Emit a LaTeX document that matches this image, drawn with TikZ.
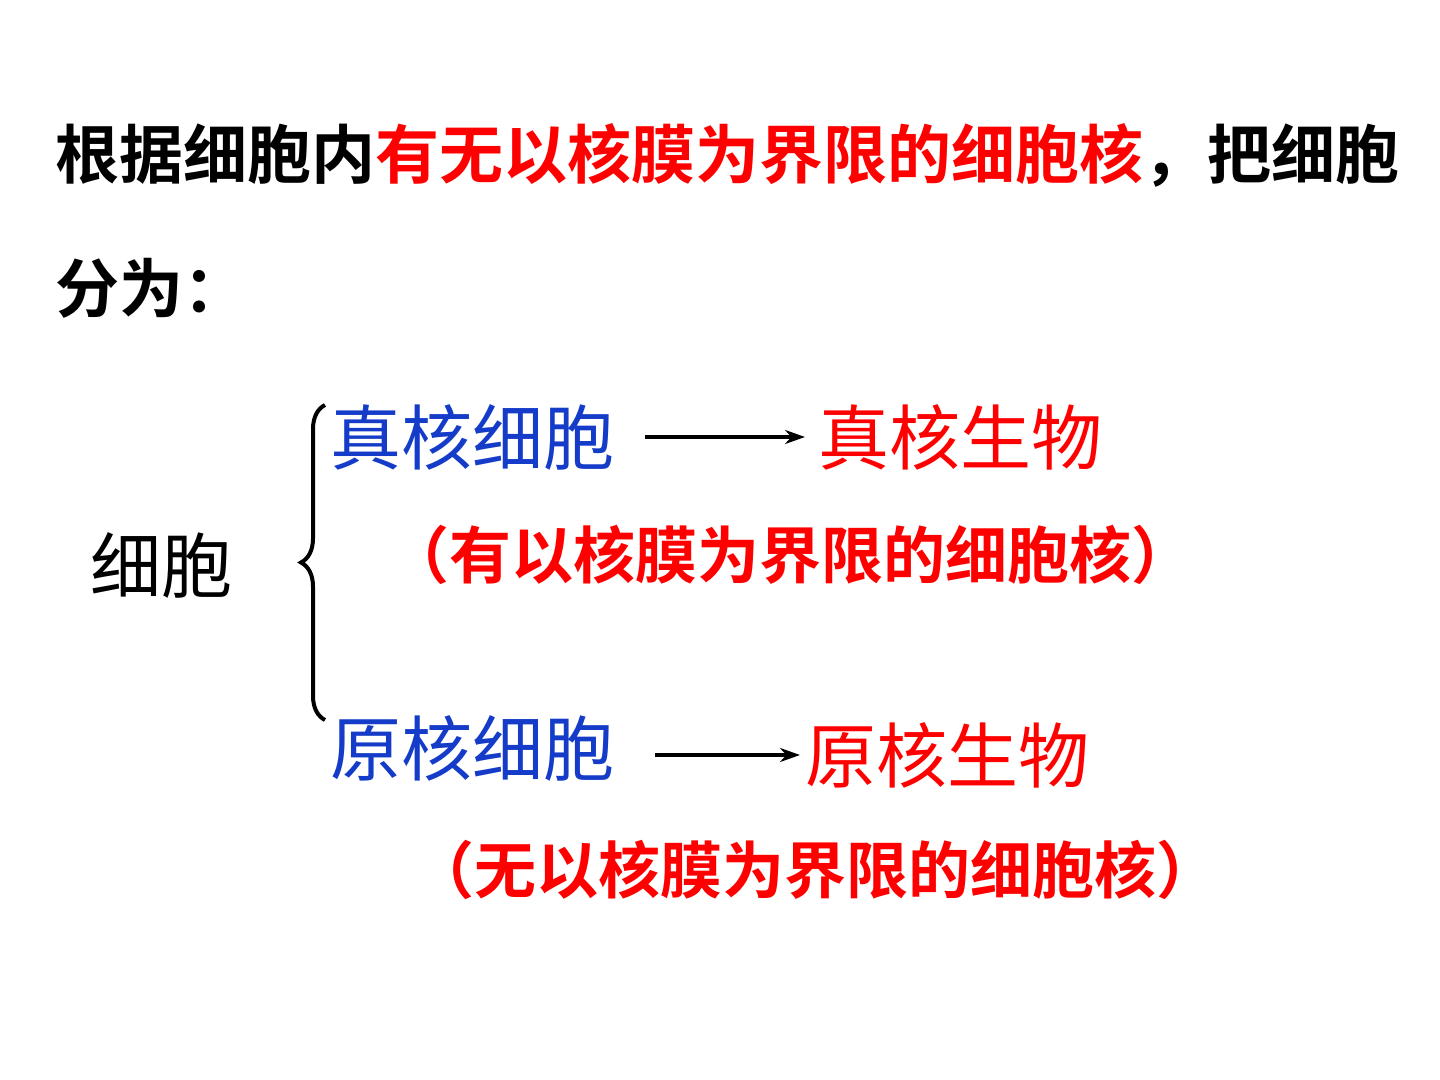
\documentclass[tikz,border=0pt]{standalone}
\usepackage{fontspec}
\setmainfont{Noto Sans CJK SC}
\newfontfamily\cjkbold{Noto Sans CJK SC Bold}
\usetikzlibrary{arrows.meta,decorations.pathreplacing}
\definecolor{cellred}{RGB}{255,0,0}
\definecolor{cellblue}{RGB}{20,60,200}
\tikzset{every picture/.style={line width=0.75pt}}

\begin{document}
\begin{tikzpicture}[x=0.5pt,y=0.5pt,yscale=-1,xscale=1]
\useasboundingbox (0,0) rectangle (1440,1080);
\tikzset{
  title/.style={anchor=west,inner sep=0pt,font=\cjkbold\fontsize{32}{36}\selectfont},
  kind/.style={anchor=west,inner sep=0pt,font=\fontsize{35.5}{40}\selectfont},
  note/.style={inner sep=0pt,text=cellred,font=\cjkbold\fontsize{31}{34}\selectfont},
  link/.style={-{Stealth[length=10pt,width=7pt]},line width=1.8pt}
}

% Text Node
\node (head) [title] at (55,155) {根据细胞内\textcolor{cellred}{有无以核膜为界限的细胞核}，把细胞};
% Text Node
\node (head2) [title] at (55,288) {分为：};
% Text Node
\node (cell) [kind] at (90,565) {细胞};
% Brace
\draw [line width=2pt,decorate,decoration={brace,amplitude=12pt}] (325,720) -- (325,405) ;
% Text Node
\node (eu) [kind,text=cellblue] at (330,437) {真核细胞};
\node (euorg) [kind,text=cellred] at (818,437) {真核生物};
\node (eunote) [note] at (790,555) {（有以核膜为界限的细胞核）};
% Text Node
\node (pro) [kind,text=cellblue] at (330,748) {原核细胞};
\node (proorg) [kind,text=cellred] at (805,755) {原核生物};
\node (pronote) [note] at (815,870) {（无以核膜为界限的细胞核）};
% Connection
\coordinate (a1) at (645,437);
\coordinate (b1) at (805,437);
\coordinate (a2) at (655,755);
\coordinate (b2) at (800,755);
\draw [link] (a1) -- (b1) ;
\draw [link] (a2) -- (b2) ;
\end{tikzpicture}
\end{document}
